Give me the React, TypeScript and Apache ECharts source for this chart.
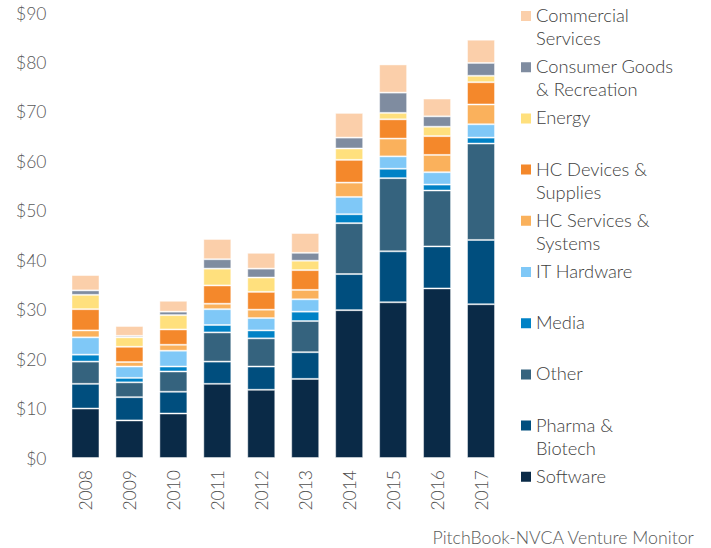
import React, { useEffect, useRef } from "react";
import * as echarts from "echarts";

const years = ["2008", "2009", "2010", "2011", "2012", "2013", "2014", "2015", "2016", "2017"];
const software = [10.0, 7.6, 9.0, 15.0, 13.8, 16.0, 29.9, 31.5, 34.3, 31.1];
const pharma = [5.0, 4.7, 4.4, 4.5, 4.7, 5.4, 7.3, 10.3, 8.5, 13.0];
const other = [4.5, 3.0, 4.1, 5.9, 5.7, 6.3, 10.3, 14.8, 11.3, 19.5];
const media = [1.4, 0.9, 1.0, 1.5, 1.6, 1.9, 1.8, 1.9, 1.2, 1.2];
const itHardware = [3.5, 2.3, 3.2, 3.2, 2.5, 2.5, 3.5, 2.5, 2.5, 2.7];
const hcServices = [1.4, 0.9, 1.2, 1.1, 1.7, 1.9, 2.9, 3.6, 3.5, 4.0];
const hcDevices = [4.3, 3.1, 3.1, 3.7, 3.6, 4.0, 4.6, 3.9, 3.8, 4.5];
const energy = [2.9, 1.9, 2.9, 3.4, 2.9, 1.9, 2.3, 1.3, 1.9, 1.3];
const consumer = [0.9, 0.3, 0.7, 1.9, 1.8, 1.6, 2.2, 4.1, 2.1, 2.6];
const commercial = [3.1, 2.0, 2.2, 4.1, 3.2, 4.0, 5.0, 5.7, 3.6, 4.7];

const seriesDefs = [
  { name: "Software", label: "Software", data: software, color: "#0A2A47" },
  { name: "Pharma & Biotech", label: "Pharma &\nBiotech", data: pharma, color: "#004E7E" },
  { name: "Other", label: "Other", data: other, color: "#35637E" },
  { name: "Media", label: "Media", data: media, color: "#0082C6" },
  { name: "IT Hardware", label: "IT Hardware", data: itHardware, color: "#7FC8F7" },
  { name: "HC Services & Systems", label: "HC Services &\nSystems", data: hcServices, color: "#FAB15C" },
  { name: "HC Devices & Supplies", label: "HC Devices &\nSupplies", data: hcDevices, color: "#F4882B" },
  { name: "Energy", label: "Energy", data: energy, color: "#FFE07D" },
  { name: "Consumer Goods & Recreation", label: "Consumer Goods\n& Recreation", data: consumer, color: "#7F8CA0" },
  { name: "Commercial Services", label: "Commercial\nServices", data: commercial, color: "#FBCFAA" },
];

const FONT = "Lato, 'Noto Sans', sans-serif";
const ICON = "path://M0,0h0.01v0.01h-0.01z M0,7.5h10v10h-10z M9.99,45.99h0.01v0.01h-0.01z";

export default function App() {
  const ref = useRef<HTMLDivElement>(null);
  useEffect(() => {
    if (!ref.current) return;
    const chart = echarts.init(ref.current, undefined, { renderer: "svg" });
    const labelMap: Record<string, string> = {};
    seriesDefs.forEach((s) => {
      labelMap[s.name] = s.label.indexOf("\n") >= 0 ? s.label : s.label + "\n ";
    });
    chart.setOption({
      animation: false,
      backgroundColor: "#ffffff",
      grid: { left: 63.5, right: 208, top: 13, bottom: 90, containLabel: false },
      xAxis: {
        type: "category",
        data: years,
        axisLine: { show: false },
        axisTick: { show: false },
        axisLabel: {
          rotate: 90,
          margin: 12,
          color: "#505050",
          fontFamily: FONT,
          fontWeight: 300,
          fontSize: 17.5,
        },
      },
      yAxis: {
        type: "value",
        min: 0,
        max: 90,
        interval: 10,
        splitLine: { show: false },
        axisLine: { show: false },
        axisTick: { show: false },
        axisLabel: {
          margin: 17,
          color: "#595959",
          fontFamily: FONT,
          fontWeight: 300,
          fontSize: 17.5,
          formatter: (v: number) => "$" + v,
        },
      },
      legend: {
        orient: "vertical",
        left: 521,
        top: 3.5,
        padding: 0,
        itemGap: 5.2,
        itemWidth: 10,
        itemHeight: 46,
        icon: ICON,
        itemStyle: { borderWidth: 0 },
        data: seriesDefs.map((s) => s.name).reverse(),
        formatter: (name: string) => labelMap[name],
        textStyle: {
          color: "#404040",
          fontFamily: FONT,
          fontWeight: 300,
          fontSize: 18.3,
          lineHeight: 23,
        },
        selectedMode: false,
      },
      series: seriesDefs.map((s) => ({
        name: s.name,
        type: "bar",
        stack: "total",
        data: s.data,
        barWidth: 28,
        itemStyle: {
          color: s.color,
          borderColor: "rgba(255,255,255,0.45)",
          borderWidth: 1,
        },
      })),
      graphic: [
        {
          type: "text",
          right: 16,
          top: 528,
          style: {
            text: "PitchBook-NVCA Venture Monitor",
            fill: "#595959",
            font: "300 17.7px " + FONT,
          },
        },
      ],
    });
    return () => chart.dispose();
  }, []);
  return (
    <div
      ref={ref}
      style={{ position: "fixed", left: 0, top: 0, width: 711, height: 548 }}
    />
  );
}
